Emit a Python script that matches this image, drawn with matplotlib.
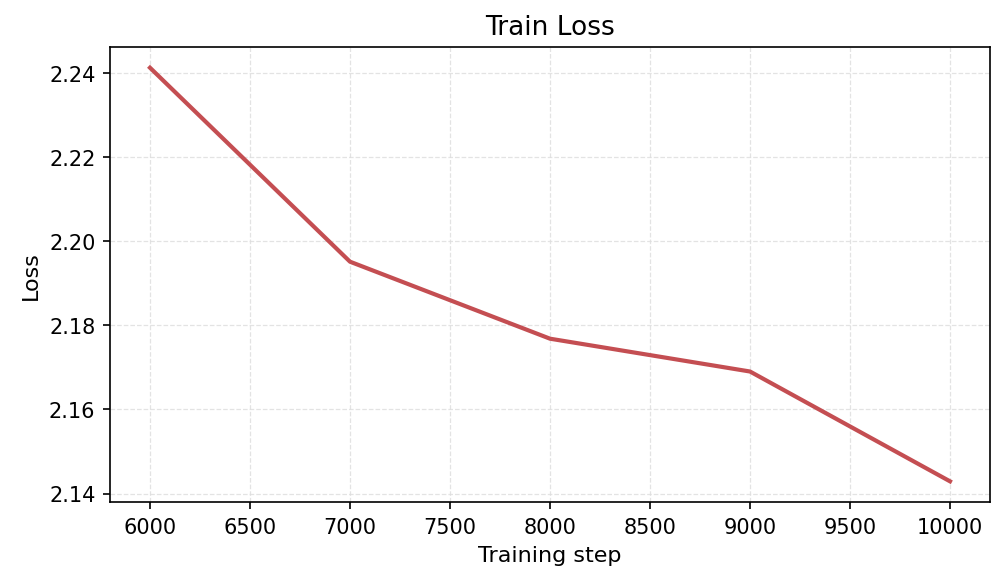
import matplotlib
matplotlib.use("Agg")
import matplotlib.pyplot as plt

steps = [6000, 7000, 8000, 9000, 10000]
loss = [2.2412, 2.1951, 2.1768, 2.1690, 2.1429]

fig = plt.figure(figsize=(6.7, 3.893), dpi=150)
ax = fig.add_axes([110/1005, 1-503/584, 880/1005, 455/584])
ax.plot(steps, loss, color="#C44E52", linewidth=2)
ax.grid(True, linestyle="--", color="#dddddd", linewidth=0.6, alpha=0.8)
ax.set_title("Train Loss", fontsize=12.7)
ax.set_xlabel("Training step", fontsize=10.7)
ax.set_ylabel("Loss", fontsize=10.7)
ax.tick_params(labelsize=10)
ax.set_yticks([2.14, 2.16, 2.18, 2.20, 2.22, 2.24])
fig.savefig("out.png", dpi=150)
